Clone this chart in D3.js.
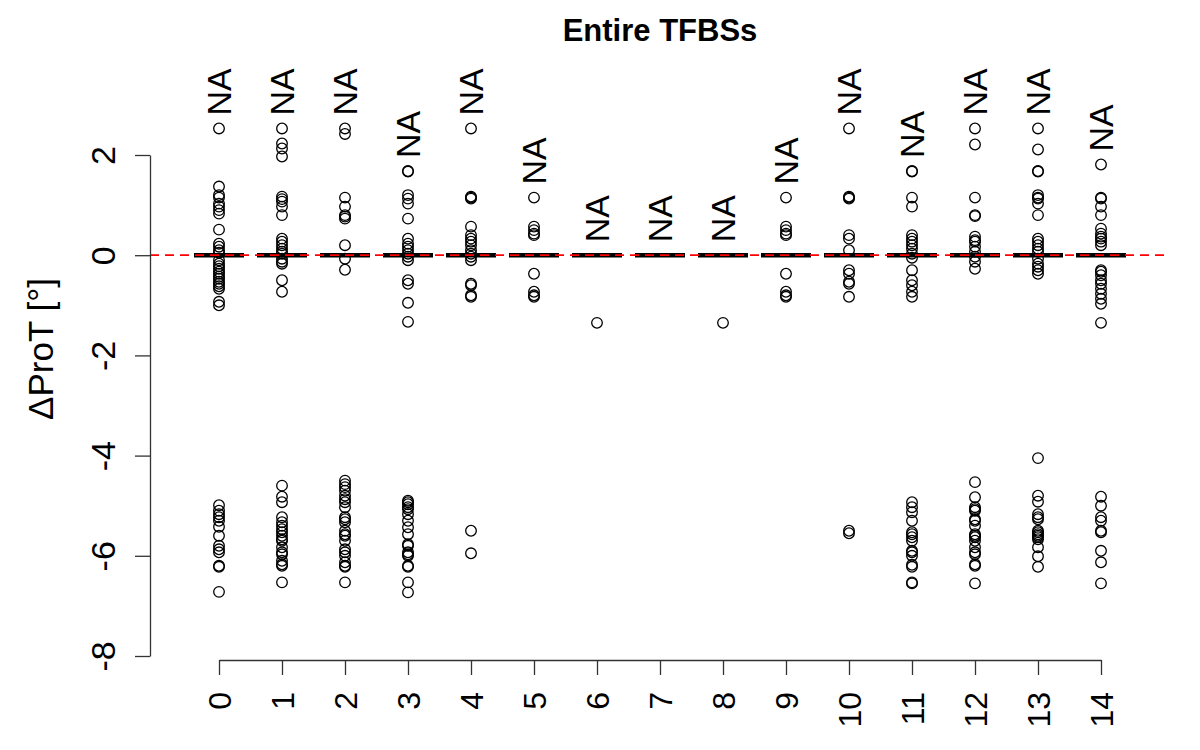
<!DOCTYPE html>
<html>
<head>
<meta charset="utf-8">
<script src="https://cdn.jsdelivr.net/npm/d3@7"></script>
<style>
  body { margin: 0; background: #fff; }
  svg { display: block; font-family: "Liberation Sans", Arial, Helvetica, sans-serif; }
</style>
</head>
<body>
<svg id="chart" width="1200" height="750"></svg>
<script>
// ---------- DATA ----------
const categories = ["0","1","2","3","4","5","6","7","8","9","10","11","12","13","14"];
const medians = [0,0,0,0,0,0,0,0,0,0,0,0,0,0,0];
const yTicks = [-8, -6, -4, -2, 0, 2];
const naLabel = "NA";
const titleText = "Entire TFBSs";
const yLabelText = "\u0394ProT [\u00B0]";

const outliers0 = [2.53,1.37,1.2,1.15,1.03,0.97,0.9,0.83,0.51,0.23,0.17,0.1,0.05,-0.1,-0.17,-0.22,-0.27,-0.33,-0.37,-0.43,-0.47,-0.53,-0.57,-0.62,-0.67,-0.93,-1.0,
  -4.99,-5.1,-5.17,-5.23,-5.3,-5.42,-5.6,-5.8,-5.87,-5.93,-6.2,-6.22,-6.72];
const outliers1 = [2.53,2.23,2.13,1.97,1.17,1.12,1.07,0.97,0.8,0.33,0.27,0.2,0.13,0.07,0.03,-0.07,-0.13,-0.17,-0.5,-0.73,
  -4.6,-4.82,-4.93,-5.23,-5.33,-5.4,-5.47,-5.53,-5.6,-5.67,-5.7,-5.83,-5.93,-5.97,-6.1,-6.17,-6.2,-6.53];
const outliers2 = [2.53,2.42,1.15,0.97,0.8,0.77,0.73,0.2,-0.07,-0.29,
  -4.5,-4.57,-4.63,-4.7,-4.8,-4.87,-4.93,-5.03,-5.23,-5.27,-5.33,-5.5,-5.57,-5.6,-5.7,-5.87,-5.93,-6.0,-6.13,-6.2,-6.22,-6.53];
const outliers3 = [1.68,1.67,1.2,1.13,1.03,0.73,0.33,0.23,0.17,0.1,0.03,-0.03,-0.1,-0.5,-0.57,-0.95,-1.33,
  -4.9,-4.93,-4.97,-5.03,-5.07,-5.17,-5.3,-5.43,-5.57,-5.77,-5.8,-5.93,-5.97,-6.0,-6.2,-6.22,-6.53,-6.73];
const outliers4 = [2.53,1.17,1.15,1.13,0.57,0.4,0.33,0.27,0.2,0.1,0.03,-0.03,-0.1,-0.57,-0.6,-0.8,-0.83,
  -5.5,-5.95];
const outliers5 = [1.15,0.57,0.5,0.43,0.4,-0.37,-0.73,-0.8,-0.83];
const outliers6 = [-1.35];
const outliers7 = [];
const outliers8 = [-1.35];
const outliers9 = [1.15,0.57,0.5,0.43,0.4,-0.37,-0.73,-0.8,-0.83];
const outliers10 = [2.53,1.17,1.15,1.13,0.4,0.33,0.1,-0.3,-0.37,-0.53,-0.57,-0.83,
  -5.5,-5.55];
const outliers11 = [1.68,1.67,1.15,0.97,0.4,0.33,0.27,0.2,0.13,0.03,-0.05,-0.3,-0.5,-0.6,-0.73,-0.83,
  -4.93,-5.03,-5.13,-5.3,-5.53,-5.57,-5.63,-5.7,-5.9,-5.93,-6.0,-6.18,-6.22,-6.53,-6.55];
const outliers12 = [2.53,2.21,1.15,0.8,0.78,0.37,0.3,0.27,0.17,0.07,-0.03,-0.13,-0.27,
  -4.53,-4.83,-5.03,-5.07,-5.1,-5.27,-5.3,-5.4,-5.57,-5.6,-5.63,-5.7,-5.83,-5.93,-5.97,-6.17,-6.2,-6.55];
const outliers13 = [2.53,2.11,1.68,1.67,1.2,1.15,1.13,1.03,0.8,0.33,0.27,0.2,0.13,0.07,-0.07,-0.17,-0.23,-0.3,-0.37,
  -4.05,-4.8,-4.92,-5.17,-5.23,-5.27,-5.5,-5.53,-5.57,-5.6,-5.63,-5.67,-5.83,-6.01,-6.22];
const outliers14 = [1.81,1.15,1.13,0.97,0.8,0.53,0.43,0.37,0.33,0.27,0.2,-0.3,-0.33,-0.4,-0.5,-0.57,-0.67,-0.77,-0.87,-0.97,-1.35,
  -4.82,-5.0,-5.23,-5.3,-5.5,-5.53,-5.9,-6.13,-6.55];

const outliers = [outliers0,outliers1,outliers2,outliers3,outliers4,outliers5,outliers6,outliers7,
  outliers8,outliers9,outliers10,outliers11,outliers12,outliers13,outliers14];

// ---------- LAYOUT ----------
const svg = d3.select("#chart");
const plotLeft = 150, plotRight = 1170, xAxisY = 660;

const x = d3.scalePoint().domain(categories).range([219, 1101]);
const y = d3.scaleLinear().domain([-8, 2]).range([656, 155]);

// title
svg.append("text")
  .attr("x", (plotLeft + plotRight) / 2)
  .attr("y", 41)
  .attr("text-anchor", "middle")
  .attr("font-weight", "bold")
  .attr("font-size", 31)
  .text(titleText);

// y label
svg.append("text")
  .attr("transform", "translate(53,349) rotate(-90)")
  .attr("text-anchor", "middle")
  .attr("font-size", 35)
  .text(yLabelText);

// boxes (degenerate: all quartiles at median)
const boxHalf = 25;
svg.append("g").selectAll("line")
  .data(categories)
  .join("line")
  .attr("x1", d => x(d) - boxHalf)
  .attr("x2", d => x(d) + boxHalf)
  .attr("y1", (d, i) => y(medians[i]))
  .attr("y2", (d, i) => y(medians[i]))
  .attr("stroke", "#000")
  .attr("stroke-width", 4.5);

// outlier points
const pts = [];
outliers.forEach((arr, i) => arr.forEach(v => pts.push({c: categories[i], v})));
svg.append("g").selectAll("circle")
  .data(pts)
  .join("circle")
  .attr("cx", d => x(d.c))
  .attr("cy", d => y(d.v))
  .attr("r", 5.3)
  .attr("fill", "none")
  .attr("stroke", "#000")
  .attr("stroke-width", 1.3);

// red dashed reference line at 0
svg.append("line")
  .attr("x1", plotLeft).attr("x2", plotRight)
  .attr("y1", y(0)).attr("y2", y(0))
  .attr("stroke", "#ff0000")
  .attr("stroke-width", 1.8)
  .attr("stroke-dasharray", "9,6");

// NA labels above each column's maximum
svg.append("g").selectAll("text")
  .data(categories)
  .join("text")
  .attr("transform", (d, i) => {
    const top = d3.max([medians[i], ...outliers[i]]);
    return `translate(${x(d) + 12},${y(top) - 13}) rotate(-90)`;
  })
  .attr("text-anchor", "start")
  .attr("font-size", 34)
  .text(naLabel);

// y axis
const yAxis = svg.append("g")
  .attr("transform", `translate(${plotLeft},0)`)
  .call(d3.axisLeft(y).tickValues(yTicks).tickSize(15).tickSizeOuter(0).tickFormat(d3.format("d")));
yAxis.select(".domain").attr("stroke", "#333").attr("stroke-width", 1.3);
yAxis.selectAll(".tick line").attr("stroke", "#333").attr("stroke-width", 1.3);
yAxis.selectAll(".tick text")
  .attr("x", null).attr("dy", null)
  .attr("transform", "translate(-35,0) rotate(-90)")
  .attr("text-anchor", "middle")
  .attr("font-size", 34)
  .attr("font-family", "Liberation Sans, Arial, sans-serif")
  .attr("fill", "#000")
  .text(d => d < 0 ? "-" + Math.abs(d) : d);

// x axis
const xAxis = svg.append("g")
  .attr("transform", `translate(0,${xAxisY})`)
  .call(d3.axisBottom(x).tickSize(15).tickSizeOuter(0));
xAxis.select(".domain").attr("stroke", "#333").attr("stroke-width", 1.3);
xAxis.selectAll(".tick line").attr("stroke", "#333").attr("stroke-width", 1.3);
xAxis.selectAll(".tick text")
  .attr("y", null).attr("dy", null)
  .attr("transform", "translate(11,32) rotate(-90)")
  .attr("text-anchor", "end")
  .attr("font-size", 32)
  .attr("font-family", "Liberation Sans, Arial, sans-serif")
  .attr("fill", "#000");
</script>
</body>
</html>
